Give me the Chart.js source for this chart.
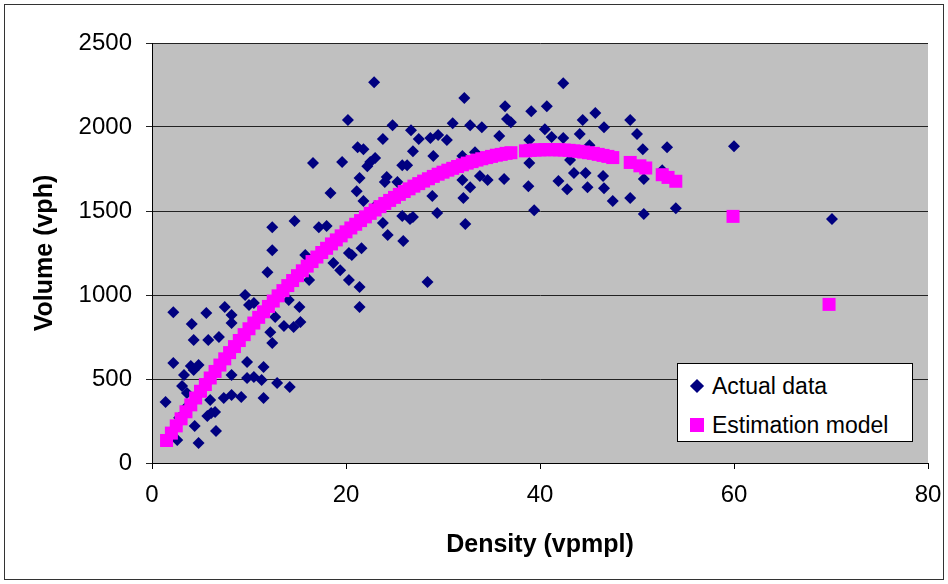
<!DOCTYPE html>
<html>
<head>
<meta charset="utf-8">
<title>Density vs Volume</title>
<script src="https://cdn.jsdelivr.net/npm/chart.js@4.4.0/dist/chart.umd.min.js"></script>
<style>
body { margin: 0; background: #fff; }
#wrap { position: relative; width: 948px; height: 584px; }
#frame { position: absolute; left: 4px; top: 4px; width: 938px; height: 574px; border: 1px solid #333; pointer-events: none; }
#legend { position: absolute; left: 677px; top: 363px; width: 234px; height: 77px; background: #fff; border: 1px solid #000;
  font-family: "Liberation Sans", Arial, sans-serif; font-size: 23px; color: #000; }
#legend .row { position: absolute; left: 0; height: 26px; line-height: 26px; }
#legend .txt { position: absolute; left: 34px; top: 0; white-space: nowrap; }
#legend .dia { position: absolute; left: 14px; top: 8px; width: 10px; height: 10px; background: #000080; transform: rotate(45deg); }
#legend .sq { position: absolute; left: 12px; top: 6px; width: 14px; height: 14px; background: #ff00ff; }
</style>
</head>
<body>
<div id="wrap">
  <canvas id="myChart" width="948" height="584"></canvas>
  <div id="frame"></div>
  <div id="legend">
    <div class="row" style="top:9px"><span class="dia"></span><span class="txt">Actual data</span></div>
    <div class="row" style="top:48px"><span class="sq"></span><span class="txt">Estimation model</span></div>
  </div>
</div>
<script>
// observed points (density vpmpl, volume vph)
const actualDensity = [1.4,2.2,2.2,3.1,3.3,3.6,4.1,4.3,4.0,4.3,4.4,4.8,4.8,2.6,2.8,3.5,
  5.6,5.8,6.9,7.5,8.2,8.2,9.6,10.0,9.8,8.2,9.8,6.0,7.4,8.2,9.2,6.1,6.5,5.7,6.6,
  10.5,11.9,12.4,12.4,12.2,12.4,12.7,13.6,14.1,14.6,11.5,10.5,11.3,12.9,14.2,11.5,14.7,
  15.2,15.3,15.8,16.2,16.6,17.2,18.0,18.4,18.7,19.4,19.6,20.2,20.3,20.3,20.6,
  21.2,21.8,21.6,21.4,21.4,21.1,21.4,21.8,22.2,22.5,23.0,22.9,23.8,23.8,24.0,24.2,24.3,24.8,23.0,25.3,
  25.8,26.3,25.8,26.6,26.9,25.9,26.7,26.9,27.5,28.4,28.7,28.9,29.0,29.4,29.5,30.4,
  31.0,32.2,32.0,32.0,32.1,32.3,32.8,32.8,33.3,33.8,34.0,34.6,35.8,
  36.3,36.4,36.6,37.0,38.8,38.9,38.9,39.1,39.4,40.5,40.7,
  41.2,41.9,42.4,42.4,42.8,43.1,43.5,44.1,44.4,44.7,44.9,45.1,45.7,
  46.5,46.6,46.6,47.5,49.3,49.3,50.0,50.6,50.7,50.7,52.6,53.1,54.0,60.0,70.1];
const actualVolume = [363,898,595,458,524,417,827,732,577,553,220,583,119,137,270,330,
  893,732,750,928,833,881,1000,940,601,524,506,375,387,405,393,298,303,280,190,
  952,1136,1404,1267,779,714,869,815,970,809,571,512,494,476,452,387,1440,
  928,839,1238,1089,1785,1404,1410,1607,1190,1148,1791,2041,1089,1250,1238,
  1880,1868,1279,1047,928,1618,1696,1559,1767,1791,1815,2267,1928,1428,1672,1702,1357,2011,1529,1672,
  1773,1773,1470,1452,1464,1321,1981,1856,1928,1077,1934,1589,1827,1488,1952,1922,
  2023,2172,1684,1827,1577,1422,2011,1642,1850,1708,1999,1684,1946,
  1690,2124,2047,2029,1648,1785,1922,2094,1505,1987,2124,
  1940,1678,2261,1934,1630,1803,1726,1958,2041,1726,1642,1892,2083,
  1708,1999,1636,1559,2041,1577,1958,1868,1690,1482,1743,1880,1517,1886,1452];

// estimation model points
const modelDensity = [1.5,2,2.5,3,3.5,4,4.5,5,5.5,6,6.5,7,7.5,8,8.5,9,9.5,10,10.5,11,11.5,12,12.5,13,13.5,14,14.5,15,
  15.5,16,16.5,17,17.5,18,18.5,19,19.5,20,20.5,21,21.5,22,22.5,23,23.5,24,24.5,25,25.5,26,26.5,27,27.5,28,28.5,29,
  29.5,30,30.5,31,31.5,32,32.5,33,33.5,34,34.5,35,35.5,36,36.5,37,
  38.5,39,39.5,40,40.5,41,41.5,42,42.5,43,43.5,44,44.5,45,45.5,46,46.5,47,47.5,
  49.3,50.3,50.9,52.6,53.2,54,59.9,69.8];
const modelVolume = [134,178,221,263,305,346,387,427,467,506,545,583,620,657,693,729,764,799,833,867,900,932,964,995,1026,1056,1086,1115,
  1144,1172,1199,1226,1253,1278,1304,1328,1352,1376,1399,1421,1443,1465,1486,1506,1526,1545,1563,1581,1599,1616,1632,1648,1663,1678,1692,1706,
  1719,1731,1743,1754,1765,1775,1785,1794,1803,1811,1818,1825,1832,1837,1843,1847,
  1858,1861,1863,1864,1865,1865,1865,1864,1863,1861,1858,1855,1851,1847,1843,1837,1831,1825,1818,
  1789,1769,1756,1716,1700,1677,1468,944];

const xTicks = [0, 20, 40, 60, 80];
const yTicks = [0, 500, 1000, 1500, 2000, 2500];

const actualPoints = actualDensity.map((d, i) => ({x: d, y: actualVolume[i]}));
const modelPoints = modelDensity.map((d, i) => ({x: d, y: modelVolume[i]}));

const FONT = '"Liberation Sans", Arial, sans-serif';

// grey plot area like the spreadsheet
const plotBg = {
  id: 'plotBg',
  beforeDraw(chart) {
    const a = chart.chartArea;
    const c = chart.ctx;
    c.save();
    c.fillStyle = '#c0c0c0';
    c.fillRect(a.left, a.top, a.right - a.left, a.bottom - a.top);
    c.restore();
  }
};

let ctx = document.getElementById('myChart').getContext('2d');
let densityChart = new Chart(ctx, {
  type: 'scatter',
  data: {
    datasets: [{
      label: 'Actual data',
      data: actualPoints,
      pointStyle: 'rectRot',
      pointRadius: 6,
      backgroundColor: '#000080',
      borderColor: '#000080',
      borderWidth: 0,
      order: 2
    }, {
      label: 'Estimation model',
      data: modelPoints,
      pointStyle: 'rect',
      pointRadius: 9.2,
      backgroundColor: '#ff00ff',
      borderColor: '#ff00ff',
      borderWidth: 0,
      order: 1
    }]
  },
  options: {
    responsive: false,
    animation: false,
    layout: { padding: { top: 43, right: 20, left: 0, bottom: 0 } },
    plugins: { legend: { display: false }, tooltip: { enabled: false } },
    scales: {
      x: {
        type: 'linear',
        min: xTicks[0],
        max: xTicks[xTicks.length - 1],
        afterBuildTicks(s) { s.ticks = xTicks.map(v => ({value: v})); },
        afterFit(s) { s.height = 121; s.paddingLeft = 0; s.paddingRight = 0; },
        ticks: { font: { family: FONT, size: 24 }, color: '#000', padding: 12, callback: v => String(v) },
        grid: { drawOnChartArea: false, drawTicks: true, tickLength: 6, color: '#000' },
        border: { color: '#000', width: 1 },
        title: { display: true, text: 'Density (vpmpl)', color: '#000',
          font: { family: FONT, size: 25, weight: 'bold', lineHeight: 1.2 }, padding: { top: 0, bottom: 24 } }
      },
      y: {
        min: yTicks[0],
        max: yTicks[yTicks.length - 1],
        afterBuildTicks(s) { s.ticks = yTicks.map(v => ({value: v})); },
        afterFit(s) { s.width = 152; s.paddingTop = 0; s.paddingBottom = 0; },
        ticks: { font: { family: FONT, size: 24 }, color: '#000', padding: 14, callback: v => String(v) },
        grid: { color: '#222', tickLength: 6, lineWidth: 1 },
        border: { color: '#000', width: 1 },
        title: { display: true, text: 'Volume (vph)', color: '#000',
          font: { family: FONT, size: 25, weight: 'bold', lineHeight: 1.2 }, padding: { top: 30, bottom: 0 } }
      }
    }
  },
  plugins: [plotBg]
});
</script>
</body>
</html>
